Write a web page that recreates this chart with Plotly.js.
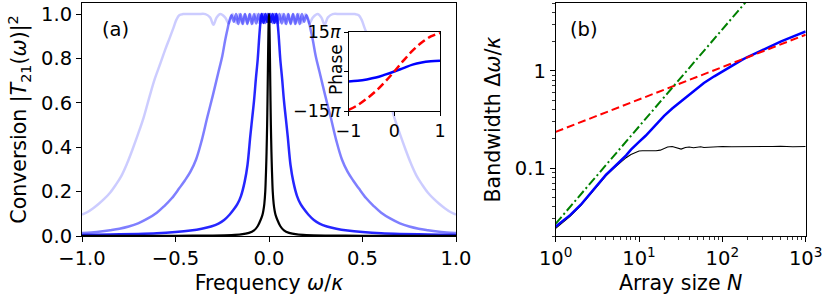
<!DOCTYPE html>
<html><head><meta charset="utf-8">
<script src="https://cdn.plot.ly/plotly-3.0.1.min.js"></script>
<style>html,body{margin:0;padding:0;background:#fff}#chart{width:830px;height:295px}</style>
</head><body><div id="chart"></div><script>
// ---------- Panel (a): conversion spectra ----------
const freqLight = [-1.0,-0.97,-0.94,-0.91,-0.88,-0.85,-0.82,-0.79,-0.76,-0.73,-0.70,-0.67,-0.64,-0.61,-0.58,-0.555,-0.53,-0.51,-0.495,-0.48,-0.46,-0.42,-0.38,-0.34,-0.315,-0.297,-0.28,-0.26,-0.235,-0.215,-0.195,-0.175,-0.16,-0.145,-0.13,-0.115,-0.10,-0.085,-0.07,-0.055,-0.04,-0.025,-0.01,0,
  0.01,0.025,0.04,0.055,0.07,0.085,0.10,0.115,0.13,0.145,0.16,0.175,0.195,0.215,0.235,0.26,0.28,0.297,0.315,0.34,0.38,0.42,0.46,0.48,0.495,0.51,0.53,0.555,0.58,0.61,0.64,0.67,0.70,0.73,0.76,0.79,0.82,0.85,0.88,0.91,0.94,0.97,1.0];
const convLight = [0.096,0.108,0.125,0.145,0.168,0.195,0.23,0.27,0.325,0.39,0.46,0.535,0.625,0.71,0.78,0.84,0.895,0.94,0.975,0.995,1.0,1.0,1.0,1.0,0.985,0.952,0.985,1.0,0.985,0.958,1.0,0.96,1.0,0.958,1.0,0.96,1.0,0.958,1.0,0.96,1.0,0.96,1.0,0.98,
  1.0,0.96,1.0,0.96,1.0,0.958,1.0,0.96,1.0,0.958,1.0,0.96,1.0,0.958,0.985,1.0,0.985,0.952,0.985,1.0,1.0,1.0,1.0,0.995,0.975,0.94,0.895,0.84,0.78,0.71,0.625,0.535,0.46,0.39,0.325,0.27,0.23,0.195,0.168,0.145,0.125,0.108,0.096];

const freqMed = [-1.0,-0.95,-0.9,-0.85,-0.8,-0.75,-0.7,-0.65,-0.6,-0.56,-0.52,-0.48,-0.45,-0.42,-0.39,-0.36,-0.33,-0.30,-0.27,-0.25,-0.235,-0.22,-0.21,-0.2,-0.188,-0.176,-0.164,-0.152,-0.14,-0.128,-0.116,-0.104,-0.092,-0.08,-0.068,-0.056,-0.044,-0.032,-0.02,-0.008,0,
  0.008,0.02,0.032,0.044,0.056,0.068,0.08,0.092,0.104,0.116,0.128,0.14,0.152,0.164,0.176,0.188,0.2,0.21,0.22,0.235,0.25,0.27,0.30,0.33,0.36,0.39,0.42,0.45,0.48,0.52,0.56,0.6,0.65,0.7,0.75,0.8,0.85,0.9,0.95,1.0];
const convMed = [0.013,0.016,0.02,0.026,0.033,0.043,0.057,0.078,0.105,0.135,0.17,0.215,0.25,0.29,0.345,0.43,0.535,0.635,0.74,0.81,0.88,0.94,0.975,0.995,0.965,1.0,0.955,1.0,0.955,1.0,0.955,1.0,0.955,1.0,0.958,1.0,0.96,1.0,0.96,1.0,0.98,
  1.0,0.96,1.0,0.96,1.0,0.958,1.0,0.955,1.0,0.955,1.0,0.955,1.0,0.955,1.0,0.965,0.995,0.975,0.94,0.88,0.81,0.74,0.635,0.535,0.43,0.345,0.29,0.25,0.215,0.17,0.135,0.105,0.078,0.057,0.043,0.033,0.026,0.02,0.016,0.013];

const freqBlue = [-1.0,-0.85,-0.7,-0.6,-0.5,-0.42,-0.36,-0.31,-0.27,-0.24,-0.21,-0.19,-0.17,-0.15,-0.13,-0.115,-0.1,-0.09,-0.08,-0.07,-0.06,-0.052,-0.046,-0.04,-0.03,-0.02,-0.01,0,
  0.01,0.02,0.03,0.04,0.046,0.052,0.06,0.07,0.08,0.09,0.1,0.115,0.13,0.15,0.17,0.19,0.21,0.24,0.27,0.31,0.36,0.42,0.5,0.6,0.7,0.85,1.0];
const convBlue = [0.005,0.007,0.009,0.012,0.018,0.025,0.033,0.043,0.056,0.072,0.097,0.118,0.142,0.18,0.245,0.32,0.45,0.53,0.61,0.71,0.8,0.9,0.96,1.0,0.96,1.0,0.965,1.0,
  0.965,1.0,0.96,1.0,0.96,0.9,0.8,0.71,0.61,0.53,0.45,0.32,0.245,0.18,0.142,0.118,0.097,0.072,0.056,0.043,0.033,0.025,0.018,0.012,0.009,0.007,0.005];

const freqBlack = [-1.0,-0.75,-0.5,-0.3,-0.2,-0.15,-0.107,-0.08,-0.06,-0.045,-0.035,-0.03,-0.025,-0.02,-0.016,-0.013,-0.01,-0.008,-0.006,-0.004,-0.002,0,
  0.002,0.004,0.006,0.008,0.01,0.013,0.016,0.02,0.025,0.03,0.035,0.045,0.06,0.08,0.107,0.15,0.2,0.3,0.5,0.75,1.0];
const convBlack = [0.0003,0.0005,0.001,0.002,0.004,0.007,0.014,0.025,0.045,0.072,0.095,0.115,0.145,0.2,0.29,0.38,0.5,0.61,0.74,0.87,0.965,1.0,
  0.965,0.87,0.74,0.61,0.5,0.38,0.29,0.2,0.145,0.115,0.095,0.072,0.045,0.025,0.014,0.007,0.004,0.002,0.001,0.0005,0.0003];

// ---------- Inset: phase (units of pi) ----------
const phaseFreq = [-1,-0.8,-0.6,-0.4,-0.2,0,0.2,0.4,0.6,0.8,1];
const phaseBlue = [-3.8,-3.5,-3.0,-2.3,-1.2,0,1.3,2.6,3.4,3.85,4.1];
const phaseRed  = [-14.6,-12.8,-10.3,-7.4,-3.9,0,4.1,7.9,11.0,13.3,14.6];

// ---------- Panel (b): bandwidth vs array size ----------
const sizeN = [1,1.5,2,3,4,5,6,7,8,9,10,12,14,17,20,25,30,40,50,60,80,100,130,170,200,250,300,400,500,700,1000];
const bwBlue = [0.025,0.033,0.042,0.063,0.085,0.102,0.118,0.135,0.155,0.172,0.186,0.215,0.25,0.3,0.345,0.41,0.465,0.56,0.66,0.75,0.88,0.99,1.13,1.29,1.39,1.52,1.63,1.86,2.0,2.25,2.55];
const sizeNBlack = [1,1.5,2,3,4,5,6,7,8,9,10,11,13,16,18,20,22,25,28,32,36,40,45,50,55,60,70,80,100,130,170,200,300,400,500,700,1000];
const bwBlack = [0.024,0.032,0.041,0.062,0.083,0.1,0.115,0.128,0.138,0.143,0.15,0.151,0.15,0.151,0.153,0.158,0.165,0.167,0.162,0.157,0.163,0.165,0.162,0.164,0.166,0.163,0.165,0.166,0.167,0.166,0.166,0.167,0.165,0.167,0.168,0.166,0.167];
const sizeLine = [1,1000];
const bwRed = [0.236,2.36];
const bwGreen = [0.0268,26.8];

const xTicksA = [-1,-0.5,0,0.5,1];
const yTicksA = [0,0.2,0.4,0.6,0.8,1.0];
const xTicksB = [1,10,100,1000];
const xTickTextB = ['10<sup>0</sup>','10<sup>1</sup>','10<sup>2</sup>','10<sup>3</sup>'];
const xMinorB = [2,3,4,5,6,7,8,9,20,30,40,50,60,70,80,90,200,300,400,500,600,700,800,900];
const yTicksB = [0.1,1];
const yTickTextB = ['0.1','1'];
const yMinorB = [0.02,0.03,0.04,0.05,0.06,0.07,0.08,0.09,0.2,0.3,0.4,0.5,0.6,0.7,0.8,0.9,2,3,4,5];
const xTicksIn = [-1,0,1];
const xTickTextIn = ['\u22121','0','1'];
const yTicksIn = [-15,0,15];
const yTickTextIn = ['\u221215<i>\u03c0</i>',' ','15<i>\u03c0</i>'];

const FONT = 'DejaVu Sans';
const W = 830, H = 295;
const px = v => v / W, py = v => 1 - v / H;

function ax(extra) {
  return Object.assign({
    showline: true, mirror: true, linecolor: '#000', linewidth: 1,
    ticks: 'outside', ticklen: 5, tickwidth: 1, tickcolor: '#000',
    showgrid: false, zeroline: false, fixedrange: true,
    tickfont: {family: FONT, size: 19.5, color: '#000'}
  }, extra);
}

const traces = [
  {x: freqLight, y: convLight, xaxis: 'x', yaxis: 'y', mode: 'lines', line: {color: 'rgba(0,0,255,0.2)', width: 2.5, shape: 'spline', smoothing: 1}, hoverinfo: 'skip'},
  {x: freqMed, y: convMed, xaxis: 'x', yaxis: 'y', mode: 'lines', line: {color: 'rgba(0,0,255,0.5)', width: 2.5, shape: 'spline', smoothing: 1}, hoverinfo: 'skip'},
  {x: freqBlue, y: convBlue, xaxis: 'x', yaxis: 'y', mode: 'lines', line: {color: 'rgba(0,0,255,0.85)', width: 2.5, shape: 'spline', smoothing: 1}, hoverinfo: 'skip'},
  {x: freqBlack, y: convBlack, xaxis: 'x', yaxis: 'y', mode: 'lines', line: {color: '#000', width: 2.2, shape: 'spline', smoothing: 0.8}, hoverinfo: 'skip'},

  {x: sizeNBlack, y: bwBlack, xaxis: 'x2', yaxis: 'y2', mode: 'lines', line: {color: '#000', width: 1.1}, hoverinfo: 'skip'},
  {x: sizeN, y: bwBlue, xaxis: 'x2', yaxis: 'y2', mode: 'lines', line: {color: '#0000ff', width: 2.5}, hoverinfo: 'skip'},
  {x: sizeLine, y: bwRed, xaxis: 'x2', yaxis: 'y2', mode: 'lines', line: {color: '#ff0000', width: 2, dash: '8px,4px'}, hoverinfo: 'skip'},
  {x: sizeLine, y: bwGreen, xaxis: 'x2', yaxis: 'y2', mode: 'lines', line: {color: '#008000', width: 2, dash: '9px,3px,2px,3px'}, hoverinfo: 'skip'},

  {x: phaseFreq, y: phaseBlue, xaxis: 'x3', yaxis: 'y3', mode: 'lines', line: {color: '#0000ff', width: 2.5, shape: 'spline'}, hoverinfo: 'skip'},
  {x: phaseFreq, y: phaseRed, xaxis: 'x3', yaxis: 'y3', mode: 'lines', line: {color: '#ff0000', width: 2.5, dash: '8px,4px', shape: 'spline'}, hoverinfo: 'skip'}
];

const layout = {
  width: W, height: H,
  margin: {l: 0, r: 0, t: 0, b: 0},
  paper_bgcolor: '#fff', plot_bgcolor: '#fff',
  showlegend: false,
  font: {family: FONT, color: '#000'},
  xaxis: ax({domain: [px(82), px(456)], range: [-1, 1], tickvals: xTicksA, tickformat: '.1f', anchor: 'y',
    title: {text: 'Frequency <i>\u03c9</i>/<i>\u03ba</i>', font: {family: FONT, size: 20.5}, standoff: 6}}),
  yaxis: ax({domain: [1 - 236 / H, 1 - 3 / H], range: [0, 1.05], tickvals: yTicksA, tickformat: '.1f', anchor: 'x',
    title: {text: 'Conversion |<i>T</i><sub>21</sub>(<i>\u03c9</i>)|<sup>2</sup>', font: {family: FONT, size: 20.5}, standoff: 8}}),
  xaxis2: ax({domain: [px(555.7), px(805.7)], type: 'log', range: [0, 3], tickvals: xTicksB, ticktext: xTickTextB, anchor: 'y2',
    minor: {tickmode: 'array', tickvals: xMinorB, ticks: 'outside', ticklen: 3, tickwidth: 0.8, tickcolor: '#000', showgrid: false},
    title: {text: 'Array size <i>N</i>', font: {family: FONT, size: 20.5}, standoff: 6}}),
  yaxis2: ax({domain: [1 - 236 / H, 1 - 3 / H], type: 'log', range: [Math.log10(0.02), Math.log10(5)], tickvals: yTicksB, ticktext: yTickTextB, anchor: 'x2',
    minor: {tickmode: 'array', tickvals: yMinorB, ticks: 'outside', ticklen: 3, tickwidth: 0.8, tickcolor: '#000', showgrid: false},
    title: {text: 'Bandwidth \u0394<i>\u03c9</i>/<i>\u03ba</i>', font: {family: FONT, size: 20.5}, standoff: 8}}),
  xaxis3: ax({domain: [px(348.5), px(440)], range: [-1, 1], tickvals: xTicksIn, ticktext: xTickTextIn, anchor: 'y3', ticklen: 3.5,
    tickfont: {family: FONT, size: 17.5, color: '#000'}}),
  yaxis3: ax({domain: [1 - 111 / H, 1 - 32 / H], range: [-15, 15], tickvals: yTicksIn, ticktext: yTickTextIn, anchor: 'x3', ticklen: 3.5,
    tickfont: {family: FONT, size: 17.5, color: '#000'}}),
  annotations: [
    {text: '(a)', xref: 'paper', yref: 'paper', x: px(115), y: py(29), xanchor: 'center', yanchor: 'middle', showarrow: false, font: {family: FONT, size: 19.5, color: '#000'}},
    {text: '(b)', xref: 'paper', yref: 'paper', x: px(584), y: py(29), xanchor: 'center', yanchor: 'middle', showarrow: false, font: {family: FONT, size: 19.5, color: '#000'}},
    {text: 'Phase', xref: 'paper', yref: 'paper', x: px(336), y: py(70), xanchor: 'center', yanchor: 'middle', textangle: -90, showarrow: false, font: {family: FONT, size: 17, color: '#000'}}
  ]
};

Plotly.newPlot('chart', traces, layout, {staticPlot: true, displayModeBar: false});
</script></body></html>
